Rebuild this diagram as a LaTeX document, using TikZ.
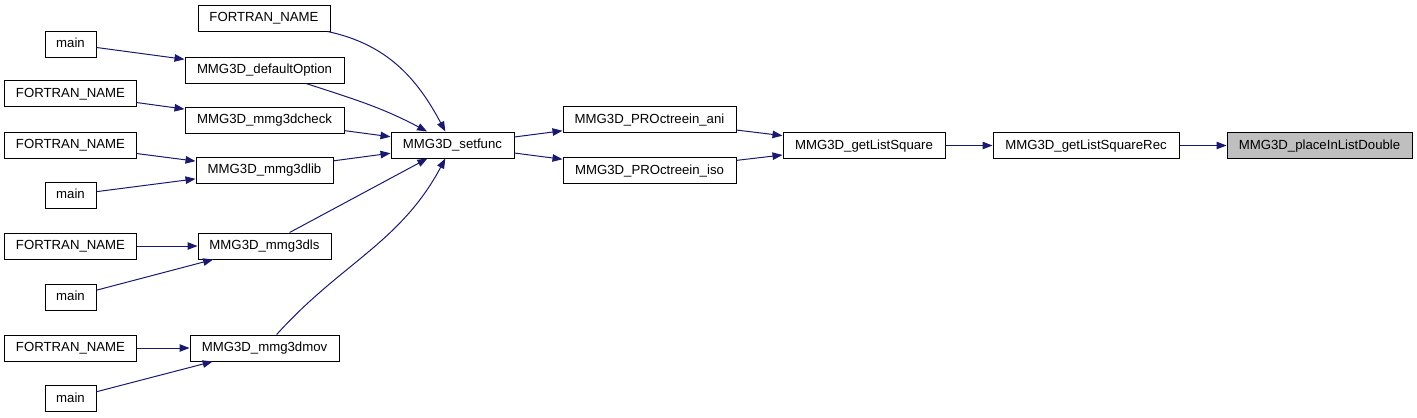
\documentclass[tikz,border=0pt]{standalone}
\usepackage{fontspec}
\setmainfont{Liberation Sans}
\usetikzlibrary{arrows.meta}
\definecolor{edgeblue}{HTML}{191970}
\definecolor{hlgray}{HTML}{BFBFBF}
\tikzset{
  fn/.style={draw=black, line width=1bp, fill=white, inner sep=0pt, minimum height=26bp,
    font=\fontsize{13.2bp}{15bp}\selectfont, text height=9.6bp, text depth=2.6bp},
  hl/.style={fn, fill=hlgray},
  call/.style={draw=edgeblue, line width=1bp, -{Triangle[length=10bp,width=7.5bp]}, color=edgeblue}
}
\begin{document}
\begin{tikzpicture}[x=1bp,y=1bp]
\useasboundingbox (0,0) rectangle (1417,-417);
% column 1
\node[fn, minimum width=132bp] (f1) at (264,-18) {FORTRAN\_NAME};
\node[fn, minimum width=51bp]  (m1) at (70.5,-44) {main};
\node[fn, minimum width=131bp] (f2) at (70.5,-93.5) {FORTRAN\_NAME};
\node[fn, minimum width=131bp] (f3) at (70.5,-145) {FORTRAN\_NAME};
\node[fn, minimum width=51bp]  (m2) at (70.5,-195) {main};
\node[fn, minimum width=131bp] (f4) at (70.5,-246) {FORTRAN\_NAME};
\node[fn, minimum width=51bp]  (m3) at (70.5,-297) {main};
\node[fn, minimum width=131bp] (f5) at (70.5,-348) {FORTRAN\_NAME};
\node[fn, minimum width=51bp]  (m4) at (70.5,-398.5) {main};
% column 2
\node[fn, minimum width=159bp] (dopt) at (264.5,-70) {MMG3D\_defaultOption};
\node[fn, minimum width=159bp] (chk)  at (264.5,-120) {MMG3D\_mmg3dcheck};
\node[fn, minimum width=137bp] (lib)  at (264.5,-170) {MMG3D\_mmg3dlib};
\node[fn, minimum width=133bp] (ls)   at (264.5,-246) {MMG3D\_mmg3dls};
\node[fn, minimum width=149bp] (mov)  at (264.5,-348) {MMG3D\_mmg3dmov};
% column 3+
\node[fn, minimum width=123bp] (set)  at (452.5,-145) {MMG3D\_setfunc};
\node[fn, minimum width=173bp] (ani)  at (649.5,-119.5) {MMG3D\_PROctreein\_ani};
\node[fn, minimum width=173bp] (iso)  at (649.5,-170.5) {MMG3D\_PROctreein\_iso};
\node[fn, minimum width=162bp] (gls)  at (864,-145.5) {MMG3D\_getListSquare};
\node[fn, minimum width=186bp] (glsr) at (1086,-145.5) {MMG3D\_getListSquareRec};
\node[hl, minimum width=185bp] (pld)  at (1319.5,-145.5) {MMG3D\_placeInListDouble};
% edges
\draw[call] (m1) -- (dopt);
\draw[call] (f2) -- (chk);
\draw[call] (f3) -- (lib);
\draw[call] (m2) -- (lib);
\draw[call] (f4) -- (ls);
\draw[call] (m3) -- (ls);
\draw[call] (f5) -- (mov);
\draw[call] (m4) -- (mov);
\draw[call] (f1) to[out=-12, in=118] (set);
\draw[call] (dopt) to[out=-18, in=152] (set);
\draw[call] (chk) -- (set);
\draw[call] (lib) -- (set);
\draw[call] (ls) -- (set);
\draw[call] (mov) to[out=48, in=-118] (set);
\draw[call] (set) -- (ani);
\draw[call] (set) -- (iso);
\draw[call] (ani) -- (gls);
\draw[call] (iso) -- (gls);
\draw[call] (gls) -- (glsr);
\draw[call] (glsr) -- (pld);
\end{tikzpicture}
\end{document}
